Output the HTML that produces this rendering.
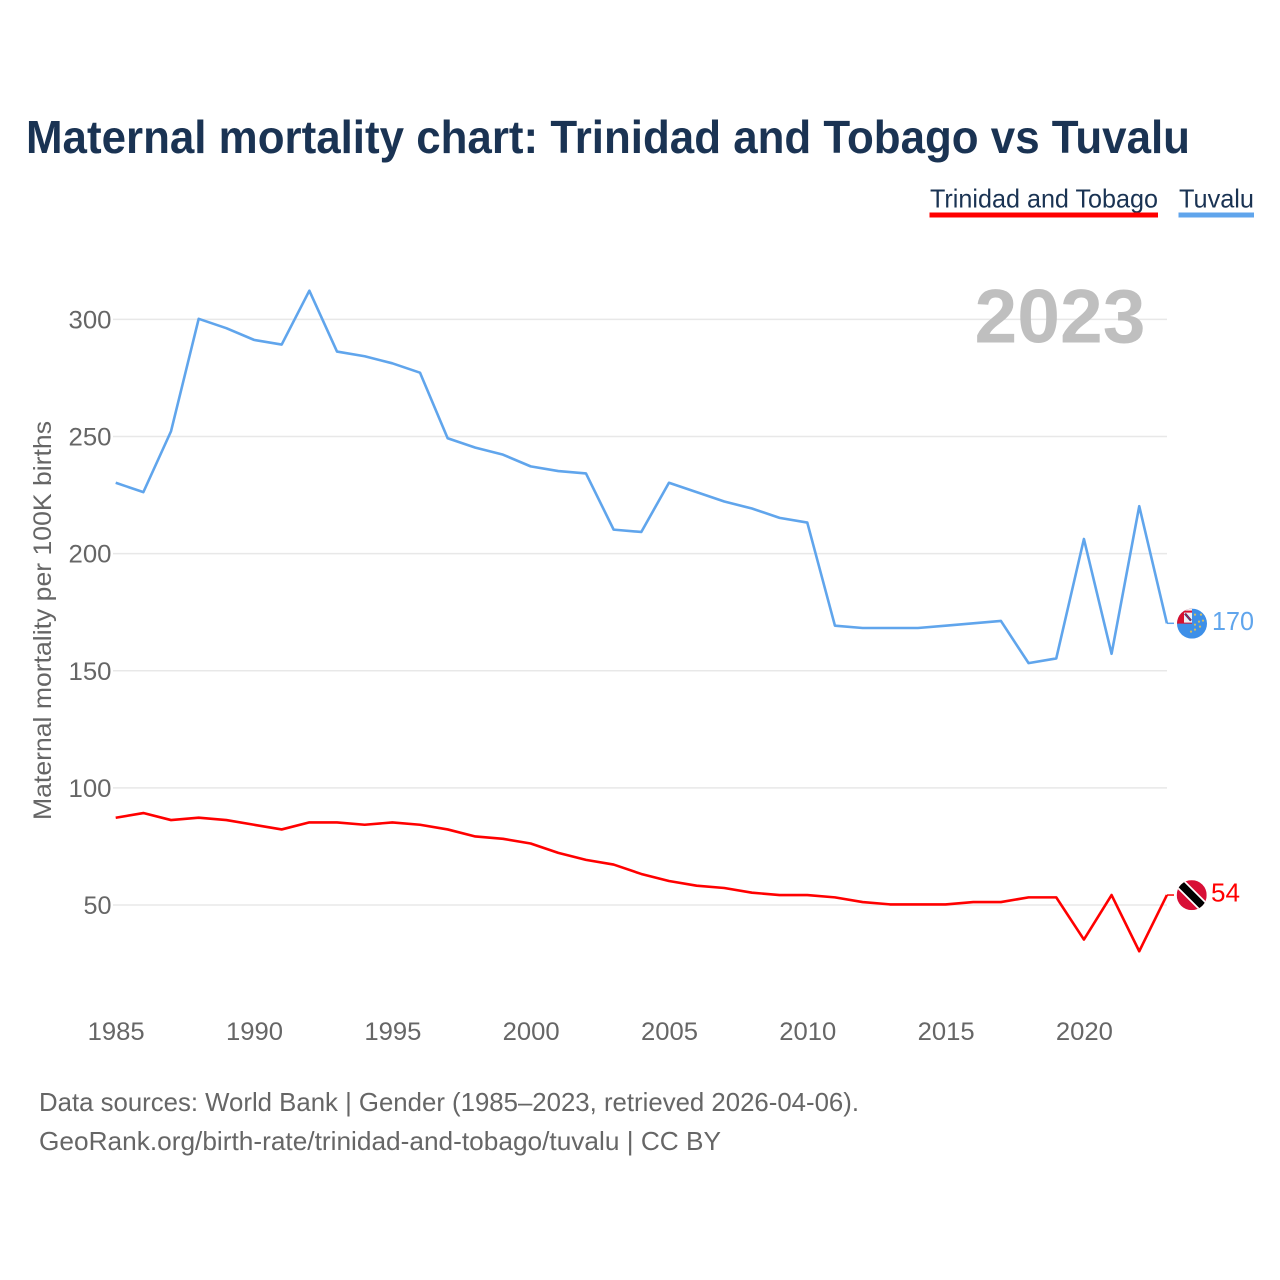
<!DOCTYPE html>
<html lang="en">
<head>
<meta charset="utf-8">
<title>Maternal mortality chart: Trinidad and Tobago vs Tuvalu</title>
<style>
html,body{margin:0;padding:0;background:#fff;}
svg{display:block;font-family:"Liberation Sans",sans-serif;}
</style>
</head>
<body>
<svg id="chart" width="1280" height="1280" viewBox="0 0 1280 1280" xmlns="http://www.w3.org/2000/svg">
  <defs>
    <clipPath id="clip-tuvalu"><circle cx="0" cy="0" r="15"/></clipPath>
    <clipPath id="clip-tt"><circle cx="0" cy="0" r="15"/></clipPath>
  </defs>
  <rect width="1280" height="1280" fill="#fff"/>
  <text x="26" y="153" font-size="46" font-weight="700" fill="#1a3353" textLength="1164" lengthAdjust="spacingAndGlyphs">Maternal mortality chart: Trinidad and Tobago vs Tuvalu</text>

  <g>
    <text x="930" y="207.5" font-size="26" fill="#1a3353" textLength="228" lengthAdjust="spacingAndGlyphs">Trinidad and Tobago</text>
    <rect x="929.5" y="212.5" width="228.5" height="5" fill="#ff0000"/>
  </g>
  <g>
    <text x="1179" y="207.5" font-size="26" fill="#1a3353" textLength="75" lengthAdjust="spacingAndGlyphs">Tuvalu</text>
    <rect x="1178.5" y="212.5" width="75.5" height="5" fill="#60a5ec"/>
  </g>

  <g id="grid"></g>
  <g id="yticks"></g>
  <g id="xticks"></g>
  <text transform="translate(51,620.5) rotate(-90)" text-anchor="middle" font-size="25" fill="#666" textLength="399" lengthAdjust="spacingAndGlyphs">Maternal mortality per 100K births</text>
  <text x="1145.5" y="342.5" text-anchor="end" font-size="76" font-weight="700" fill="#bfbfbf" textLength="171" lengthAdjust="spacingAndGlyphs">2023</text>

  <g id="series"></g>

  <g id="flag-tuvalu">
    <g clip-path="url(#clip-tuvalu)">
      <rect x="-15" y="-15" width="30" height="30" fill="#3d8fe8"/>
      <rect x="-15" y="-15" width="15" height="15" fill="#d8112f"/>
      <rect x="-15" y="-15" width="15" height="2" fill="#f1f1f1"/>
      <rect x="-8" y="-11" width="8" height="10" fill="#f0f0f4"/>
      <path d="M-7 -10 L-1 -3" stroke="#27407f" stroke-width="2.4"/>
      <path d="M-7 -10 L-1 -3" stroke="#d8112f" stroke-width="0.9"/>
      <g fill="#d2bd62">
        <circle cx="3" cy="-9" r="1.1"/><circle cx="9" cy="-9" r="1.1"/>
        <circle cx="11" cy="-3" r="1.1"/><circle cx="7" cy="-2" r="1.1"/>
        <circle cx="3" cy="1" r="1.1"/><circle cx="8" cy="3" r="1.1"/>
        <circle cx="3" cy="6" r="1.1"/><circle cx="-1" cy="8" r="1.1"/>
      </g>
    </g>
  </g>
  <g id="flag-tt">
    <g clip-path="url(#clip-tt)">
      <rect x="-15" y="-15" width="30" height="30" fill="#d80f36"/>
      <path d="M-15 -15 L15 15" stroke="#fff" stroke-width="11"/>
      <path d="M-15 -15 L15 15" stroke="#000" stroke-width="7.5"/>
    </g>
  </g>
  <text id="label-tuvalu" x="1212" font-size="26" fill="#60a5ec" textLength="42" lengthAdjust="spacingAndGlyphs"></text>
  <text id="label-tt" x="1211" font-size="26" fill="#ff0000" textLength="29" lengthAdjust="spacingAndGlyphs"></text>

  <text x="39" y="1111" font-size="26" fill="#666" textLength="820" lengthAdjust="spacingAndGlyphs">Data sources: World Bank | Gender (1985–2023, retrieved 2026-04-06).</text>
  <text x="39" y="1150" font-size="26" fill="#666" textLength="682" lengthAdjust="spacingAndGlyphs">GeoRank.org/birth-rate/trinidad-and-tobago/tuvalu | CC BY</text>
</svg>
<script>
var years = [1985,1986,1987,1988,1989,1990,1991,1992,1993,1994,1995,1996,1997,1998,1999,2000,2001,2002,2003,2004,2005,2006,2007,2008,2009,2010,2011,2012,2013,2014,2015,2016,2017,2018,2019,2020,2021,2022,2023];
var tuvalu = [230,226,252,300,296,291,289,312,286,284,281,277,249,245,242,237,235,234,210,209,230,226,222,219,215,213,169,168,168,168,169,170,171,153,155,206,157,220,170];
var trinidadAndTobago = [87,89,86,87,86,84,82,85,85,84,85,84,82,79,78,76,72,69,67,63,60,58,57,55,54,54,53,51,50,50,50,51,51,53,53,35,54,30,54];
var yTickValues = [50,100,150,200,250,300];
var xTickValues = [1985,1990,1995,2000,2005,2010,2015,2020];

var NS = 'http://www.w3.org/2000/svg';
function xScale(year){ return 115.7 + (year - 1985) * (1166.9 - 115.7) / 38; }
function yScale(v){ return 904.4 - (v - 50) * (904.4 - 318.8) / 250; }
function make(tag, attrs){
  var el = document.createElementNS(NS, tag);
  for (var k in attrs) { el.setAttribute(k, attrs[k]); }
  return el;
}

var grid = document.getElementById('grid');
var yticks = document.getElementById('yticks');
yTickValues.forEach(function(v){
  var gy = yScale(v) + 0.6;
  var line = make('line', {x1:113, x2:1167, y1:gy, y2:gy, stroke:'#e8e8e8', 'stroke-width':1.5});
  
  
  grid.appendChild(line);
  var t = make('text', {x:111.5, y:gy + 9, 'text-anchor':'end', 'font-size':25, fill:'#666', textLength:43, lengthAdjust:'spacingAndGlyphs'});
  if (v < 100) { t.setAttribute('textLength', 28); }
  
  
  t.textContent = v;
  yticks.appendChild(t);
});

var xticks = document.getElementById('xticks');
xTickValues.forEach(function(y){
  var t = make('text', {x:xScale(y) + 0.5, y:1040, 'text-anchor':'middle', 'font-size':25, fill:'#666', textLength:57, lengthAdjust:'spacingAndGlyphs'});
  
  
  t.textContent = y;
  xticks.appendChild(t);
});

function drawSeries(values, color, name){
  var pts = values.map(function(v, i){ return xScale(years[i]).toFixed(2) + ',' + yScale(v).toFixed(2); });
  var line = make('polyline', {points:pts.join(' '), fill:'none', stroke:color, 'stroke-width':2.6, 'stroke-linejoin':'round'});
  
  
  document.getElementById('series').appendChild(line);
  var lastY = yScale(values[values.length - 1]);
  var conn = make('line', {x1:xScale(years[years.length - 1]), x2:1174, y1:lastY, y2:lastY, stroke:color, 'stroke-width':1.5});
  
  
  document.getElementById('series').appendChild(conn);
  return lastY;
}
var yTuv = drawSeries(tuvalu, '#60a5ec', 'tuvalu-line');
var yTT = drawSeries(trinidadAndTobago, '#ff0000', 'trinidad-and-tobago-line');

document.getElementById('flag-tuvalu').setAttribute('transform', 'translate(1192,' + (yTuv + 0.3) + ')');
document.getElementById('flag-tt').setAttribute('transform', 'translate(1191.7,' + (yTT + 0.1) + ')');
var lt = document.getElementById('label-tuvalu');
lt.setAttribute('y', yTuv + 6.5);
lt.textContent = tuvalu[tuvalu.length - 1];
var lr = document.getElementById('label-tt');
lr.setAttribute('y', yTT + 6.5);
lr.textContent = trinidadAndTobago[trinidadAndTobago.length - 1];
</script>
</body>
</html>
